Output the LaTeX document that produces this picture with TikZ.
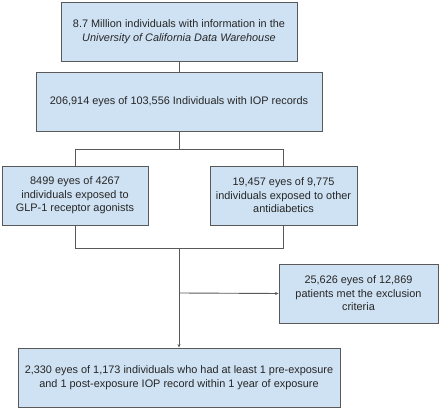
\documentclass[tikz,border=0pt]{standalone}
\usepackage{fontspec}
\setmainfont{Liberation Sans}
\usetikzlibrary{arrows.meta}
\definecolor{boxfill}{HTML}{CFE2F3}
\definecolor{boxline}{HTML}{595959}
\begin{document}
\begin{tikzpicture}[x=1pt,y=-1pt,
  box/.style={draw=boxline,fill=boxfill,line width=0.9pt,inner sep=0pt,align=center,
    font=\fontsize{10.9}{13.6}\selectfont,text=black!85},
  conn/.style={draw=boxline,line width=0.9pt},
  arr/.style={conn,-{Stealth[length=3.5pt,width=3pt]}}]
\useasboundingbox (0,0) rectangle (440,409);
\node[box,minimum width=236pt,minimum height=59pt] (b1) at (179,31.5)
  {8.7 Million individuals with information in the\\\textit{University of California Data Warehouse}};
\node[box,minimum width=286pt,minimum height=59pt] (b2) at (179,101.5)
  {206,914 eyes of 103,556 Individuals with IOP records};
\node[box,minimum width=146pt,minimum height=59pt] (b3) at (75,195.5)
  {8499 eyes of 4267\\individuals exposed to\\GLP-1 receptor agonists};
\node[box,minimum width=147pt,minimum height=59pt] (b4) at (283.5,195.5)
  {19,457 eyes of 9,775\\individuals exposed to other\\antidiabetics};
\node[box,minimum width=159pt,minimum height=59pt] (b5) at (358.5,293.5)
  {25,626 eyes of 12,869\\patients met the exclusion\\criteria};
\node[box,minimum width=322pt,minimum height=59pt] (b6) at (179,377.5)
  {2,330 eyes of 1,173 individuals who had at least 1 pre-exposure\\and 1 post-exposure IOP record within 1 year of exposure};
\coordinate (s1) at (179,149);
\coordinate (s2) at (179,248);
\coordinate (s3) at (179,293);
\draw[conn] (b1.south) -- (b2.north);
\draw[conn] (b2.south) -- (s1);
\draw[conn] (s1) -| (b3.north);
\draw[conn] (s1) -| (b4.north);
\draw[conn] (b3.south) |- (s2);
\draw[conn] (b4.south) |- (s2);
\draw[arr] (s2) -- (b6.north);
\draw[arr] (s3) -- (b5.west);
\end{tikzpicture}
\end{document}
